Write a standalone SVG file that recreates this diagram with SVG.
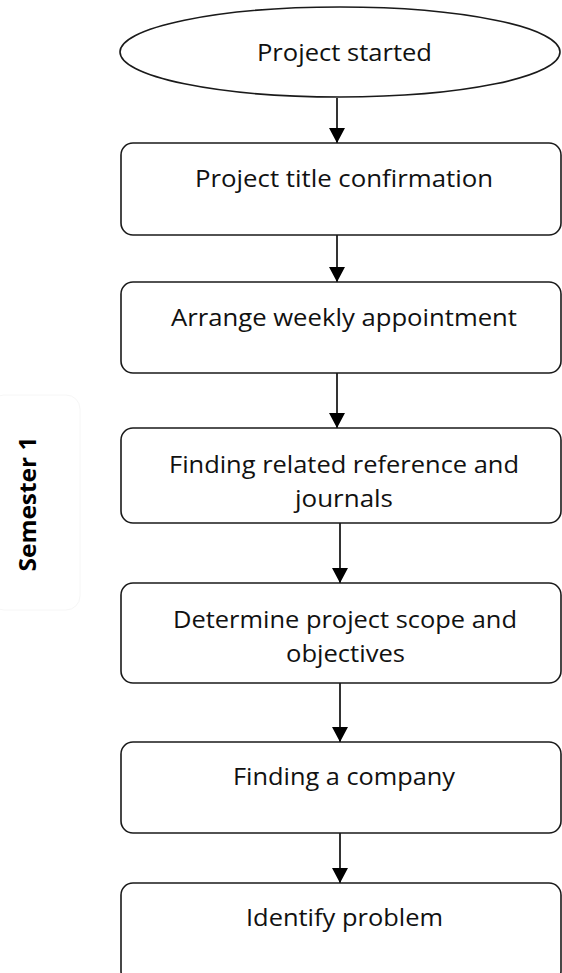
<svg xmlns="http://www.w3.org/2000/svg" width="562" height="973" viewBox="0 0 562 973">
<style>
.box{fill:#fff;stroke:#1a1a1a;stroke-width:1.6}
.t{font-family:"Open Sans","Noto Sans",sans-serif;font-size:24px;fill:#111;text-anchor:middle}
.lbl{font-family:"Open Sans","Noto Sans",sans-serif;font-size:23px;font-weight:bold;fill:#000;text-anchor:middle}
.con line{stroke:#000;stroke-width:1.6}
</style>
<defs>
<marker id="ah" markerUnits="userSpaceOnUse" markerWidth="15" markerHeight="16" refX="15" refY="8" orient="auto" viewBox="0 0 15 16">
<path d="M0,0 L15,8 L0,16 Z" fill="#000"/>
</marker>
</defs>
<rect width="562" height="973" fill="#fff"/>
<g id="semester">
<rect x="-10" y="395" width="90" height="215" rx="14" fill="none" stroke="#f6f6f6" stroke-width="1"/>
<text class="lbl" transform="translate(36,504) rotate(-90)" textLength="135" lengthAdjust="spacingAndGlyphs">Semester 1</text>
</g>
<g class="con" id="connectors">
<line x1="337" y1="98" x2="337" y2="143" marker-end="url(#ah)"/>
<line x1="337" y1="235" x2="337" y2="282" marker-end="url(#ah)"/>
<line x1="337" y1="373" x2="337" y2="428" marker-end="url(#ah)"/>
<line x1="340" y1="523" x2="340" y2="583" marker-end="url(#ah)"/>
<line x1="340" y1="683" x2="340" y2="742" marker-end="url(#ah)"/>
<line x1="340" y1="833" x2="340" y2="883" marker-end="url(#ah)"/>
</g>
<g id="n0">
<ellipse cx="340" cy="52" rx="220" ry="45" class="box"/>
<text class="t" x="344.5" y="61" textLength="175" lengthAdjust="spacingAndGlyphs">Project started</text>
</g>
<g id="n1">
<rect x="121" y="143" width="440" height="92" rx="12" class="box"/>
<text class="t" x="344" y="187" textLength="298" lengthAdjust="spacingAndGlyphs">Project title confirmation</text>
</g>
<g id="n2">
<rect x="121" y="282" width="440" height="91" rx="12" class="box"/>
<text class="t" x="344" y="326" textLength="346" lengthAdjust="spacingAndGlyphs">Arrange weekly appointment</text>
</g>
<g id="n3">
<rect x="121" y="428" width="440" height="95" rx="12" class="box"/>
<text class="t" x="344" y="473" textLength="350" lengthAdjust="spacingAndGlyphs">Finding related reference and</text>
<text class="t" x="344" y="507" textLength="98" lengthAdjust="spacingAndGlyphs">journals</text>
</g>
<g id="n4">
<rect x="121" y="583" width="440" height="100" rx="12" class="box"/>
<text class="t" x="345" y="628" textLength="344" lengthAdjust="spacingAndGlyphs">Determine project scope and</text>
<text class="t" x="345.5" y="662" textLength="119" lengthAdjust="spacingAndGlyphs">objectives</text>
</g>
<g id="n5">
<rect x="121" y="742" width="440" height="91" rx="12" class="box"/>
<text class="t" x="344" y="785" textLength="222" lengthAdjust="spacingAndGlyphs">Finding a company</text>
</g>
<g id="n6">
<rect x="121" y="883" width="440" height="100" rx="12" class="box"/>
<text class="t" x="344.5" y="926" textLength="197" lengthAdjust="spacingAndGlyphs">Identify problem</text>
</g>
</svg>
